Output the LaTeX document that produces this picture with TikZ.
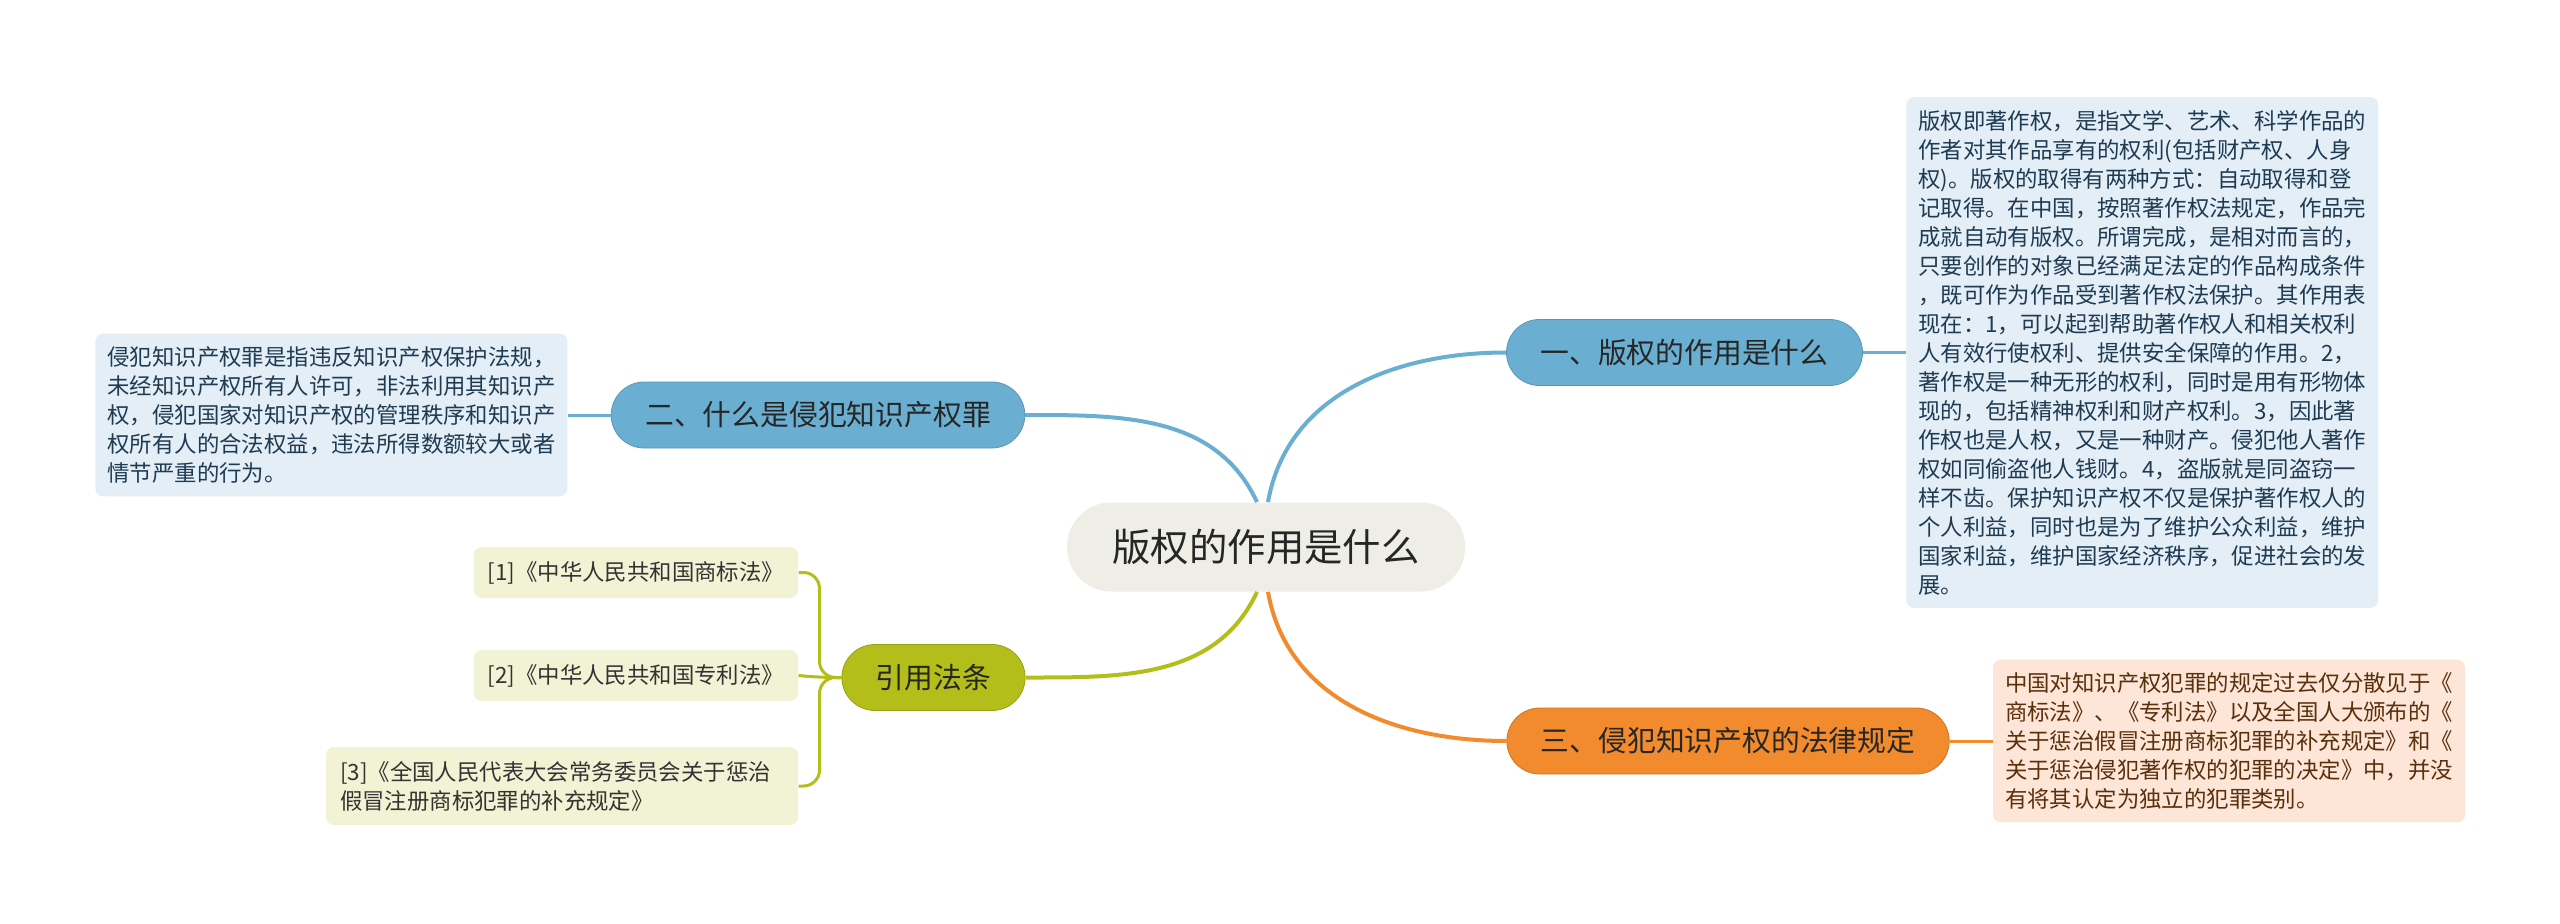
\documentclass[tikz,border=0pt]{standalone}
\usepackage{fontspec}
\setmainfont{Noto Sans CJK SC}
\usetikzlibrary{positioning}

\definecolor{rootgray}{HTML}{EEEDE6}
\definecolor{topicblue}{HTML}{6AAFD2}
\definecolor{topicorange}{HTML}{F18B2D}
\definecolor{topicolive}{HTML}{B3BE1A}
\definecolor{noteblue}{HTML}{E3EEF6}
\definecolor{notepeach}{HTML}{FDE6D7}
\definecolor{noteolive}{HTML}{F1F3D4}
\definecolor{textblue}{HTML}{1F3B52}
\definecolor{textbrown}{HTML}{5A2F0C}

\begin{document}
\begin{tikzpicture}[
    x=0.5pt, y=0.5pt,
    node distance=21.5pt,
    root/.style={
        rectangle,
        rounded corners=22pt,
        fill=rootgray,
        minimum width=199pt,
        minimum height=44.5pt,
        font=\fontsize{19.2}{23}\selectfont,
        text=black!85
    },
    topic/.style={
        rectangle,
        rounded corners=16.5pt,
        fill=#1,
        draw=#1!85!black,
        line width=0.4pt,
        minimum height=33pt,
        inner xsep=17pt,
        font=\fontsize{14.4}{17}\selectfont,
        text=black!85
    },
    note/.style={
        rectangle,
        rounded corners=4pt,
        fill=#1,
        inner xsep=6pt,
        inner ysep=6.5pt,
        text width=224pt,
        align=left,
        font=\fontsize{11.2}{14.5}\selectfont
    },
    lawbox/.style={
        rectangle,
        rounded corners=4pt,
        fill=noteolive,
        inner xsep=7pt,
        inner ysep=7pt,
        minimum height=25.5pt,
        align=left,
        text=black!80,
        font=\fontsize{11.2}{14.5}\selectfont
    },
    link/.style={
        line width=2pt,
        draw=#1
    },
    stub/.style={
        line width=1.5pt,
        draw=#1
    },
    brace/.style={
        line width=1.5pt,
        draw=topicolive,
        rounded corners=8pt
    }
]
\useasboundingbox (0,0) rectangle (2560,923);

% Central topic
\node[root] (root) at (1266,376) {版权的作用是什么};

% Main branches
\node[topic=topicblue] (t1) at (1684.5,570.5) {一、版权的作用是什么};
\node[topic=topicblue] (t2) at (818,508) {二、什么是侵犯知识产权罪};
\node[topic=topicorange] (t3) at (1728,182) {三、侵犯知识产权的法律规定};
\node[topic=topicolive] (cite) at (933.5,245.5) {引用法条};

% Notes
\node[note=noteblue, text=textblue, right=of t1] (n1) {
    版权即著作权，是指文学、艺术、科学作品的\\
    作者对其作品享有的权利(包括财产权、人身\\
    权)。版权的取得有两种方式：自动取得和登\\
    记取得。在中国，按照著作权法规定，作品完\\
    成就自动有版权。所谓完成，是相对而言的，\\
    只要创作的对象已经满足法定的作品构成条件\\
    ，既可作为作品受到著作权法保护。其作用表\\
    现在：1，可以起到帮助著作权人和相关权利\\
    人有效行使权利、提供安全保障的作用。2，\\
    著作权是一种无形的权利，同时是用有形物体\\
    现的，包括精神权利和财产权利。3，因此著\\
    作权也是人权，又是一种财产。侵犯他人著作\\
    权如同偷盗他人钱财。4，盗版就是同盗窃一\\
    样不齿。保护知识产权不仅是保护著作权人的\\
    个人利益，同时也是为了维护公众利益，维护\\
    国家利益，维护国家经济秩序，促进社会的发\\
    展。
};

\node[note=noteblue, text=textblue, left=of t2] (n2) {
    侵犯知识产权罪是指违反知识产权保护法规，\\
    未经知识产权所有人许可，非法利用其知识产\\
    权，侵犯国家对知识产权的管理秩序和知识产\\
    权所有人的合法权益，违法所得数额较大或者\\
    情节严重的行为。
};

\node[note=notepeach, text=textbrown, right=of t3] (n3) {
    中国对知识产权犯罪的规定过去仅分散见于《\\
    商标法》、《专利法》以及全国人大颁布的《\\
    关于惩治假冒注册商标犯罪的补充规定》和《\\
    关于惩治侵犯著作权的犯罪的决定》中，并没\\
    有将其认定为独立的犯罪类别。
};

% Cited laws
\node[lawbox, left=of cite, yshift=52.5pt] (r1) {[1]《中华人民共和国商标法》};
\node[lawbox, left=of cite, yshift=1pt] (r2) {[2]《中华人民共和国专利法》};
\node[lawbox, left=of cite, yshift=-54.25pt, text width=222pt] (r3) {
    [3]《全国人民代表大会常务委员会关于惩治\\
    假冒注册商标犯罪的补充规定》
};

% Connectors
\draw[link=topicblue] ([xshift=1pt]root.north) to[out=80,in=180] (t1.west);
\draw[link=topicblue] ([xshift=-4.5pt]root.north) to[out=115,in=0] (t2.east);
\draw[link=topicorange] ([xshift=1pt]root.south) to[out=-80,in=180] (t3.west);
\draw[link=topicolive] ([xshift=-4.5pt]root.south) to[out=-115,in=0] (cite.east);

\draw[stub=topicblue] (t1.east) -- (n1.west);
\draw[stub=topicblue] (t2.west) -- (n2.east);
\draw[stub=topicorange] (t3.east) -- (n3.west);

\draw[brace] (cite.west) -- ++(-11pt,0) |- (r1.east);
\draw[brace] (cite.west) -- ++(-11pt,0) -- (r2.east);
\draw[brace] (cite.west) -- ++(-11pt,0) |- (r3.east);

\end{tikzpicture}
\end{document}
